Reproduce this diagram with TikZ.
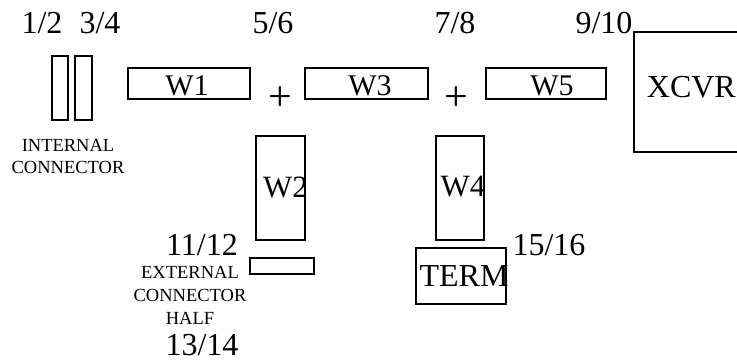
\documentclass[tikz,border=0pt]{standalone}
\usepackage{fontspec}
\setmainfont{Liberation Serif}
\begin{document}
\begin{tikzpicture}[x=1pt,y=-1pt,
  box/.style={draw, line width=1.8pt, inner sep=0pt, outer sep=0pt},
  lbl/.style={font=\fontsize{32}{32}\selectfont, inner sep=0pt},
  big/.style={font=\fontsize{32}{32}\selectfont, inner sep=0pt},
  hbox/.style={box, minimum height=31pt},
  htxt/.style={font=\fontsize{30}{30}\selectfont, inner sep=0pt},
  vtxt/.style={font=\fontsize{31}{31}\selectfont, inner sep=0pt},
  captxt/.style={font=\fontsize{18.5}{22}\selectfont, inner sep=0pt, align=center}]
\useasboundingbox (0,0) rectangle (737,362);
% top labels
\node[lbl] (l12) at (42,23) {1/2};
\node[lbl] (l34) at (100,23) {3/4};
\node[lbl] (l56) at (273,23) {5/6};
\node[lbl] (l78) at (455,23) {7/8};
\node[lbl] (l910) at (604,23) {9/10};
% internal connector
\node[box, minimum width=16pt, minimum height=64pt] (c1) at (60,88) {};
\node[box, minimum width=17pt, minimum height=64pt] (c2) at (83.5,88) {};
\node[captxt] (ic) at (68,156) {INTERNAL\\CONNECTOR};
% horizontal boxes
\node[hbox, minimum width=122pt] (w1) at (189,83.5) {};
\node[htxt] (w1t) at (187,86) {W1};
\node[hbox, minimum width=123pt] (w3) at (366.5,83.5) {};
\node[htxt] (w3t) at (370,86) {W3};
\node[hbox, minimum width=120pt] (w5) at (546,83.5) {};
\node[htxt] (w5t) at (552,86) {W5};
\node[font=\fontsize{42}{42}\selectfont, inner sep=0pt] (p1) at (280,99) {+};
\node[font=\fontsize{42}{42}\selectfont, inner sep=0pt] (p2) at (456,99) {+};
% XCVR
\node[inner sep=0pt, minimum width=112pt, minimum height=120pt] (xc) at (690,92) {};
\draw[line width=1.8pt] (xc.north east) -- (xc.north west) -- (xc.south west) -- (xc.south east);
\node[font=\fontsize{32}{32}\selectfont, inner sep=0pt, anchor=east] (xt) at (736,87) {XCVR};
% vertical boxes
\node[box, minimum width=49pt, minimum height=104pt] (w2) at (280.5,188) {};
\node[vtxt] (w2t) at (285.5,187) {W2};
\node[box, minimum width=48pt, minimum height=104pt] (w4) at (460,188) {};
\node[vtxt] (w4t) at (463,187) {W4};
% external connector
\node[big] (l1112) at (202,245) {11/12};
\node[box, minimum width=64pt, minimum height=16pt] (ec) at (282,266) {};
\node[captxt, font=\fontsize{18.5}{23}\selectfont] (ect) at (190,295) {EXTERNAL\\CONNECTOR\\HALF};
\node[big] (l1314) at (202,345) {13/14};
% term
\node[box, minimum width=90pt, minimum height=56pt] (term) at (461,276) {};
\node[font=\fontsize{32}{32}\selectfont, inner sep=0pt] (tt) at (464,276) {TERM};
\node[big] (l1516) at (549,245) {15/16};
\end{tikzpicture}
\end{document}
